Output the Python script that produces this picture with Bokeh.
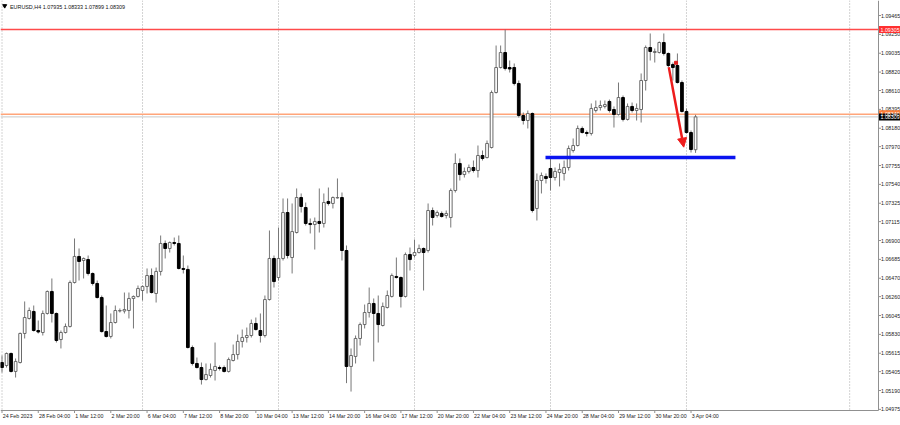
from bokeh.plotting import figure
from bokeh.models import Range1d, ColumnDataSource, Arrow, NormalHead
from bokeh.core.properties import value
from bokeh.embed import file_html
from bokeh.resources import INLINE

title_text = "EURUSD,H4  1.07935 1.08333 1.07899 1.08309"

opens = [
    1.05509, 1.05475, 1.05612, 1.05407, 1.05509, 1.05840, 1.06011, 1.06091, 1.05874, 1.05851,
    1.06068, 1.06319, 1.06068, 1.05771, 1.05851, 1.05920, 1.06421, 1.06718, 1.06672, 1.06683,
    1.06524, 1.06410, 1.06250, 1.05862, 1.05806, 1.05965, 1.06096, 1.06096, 1.06102, 1.06239,
    1.06262, 1.06330, 1.06376, 1.06501, 1.06296, 1.06547, 1.06866, 1.06809, 1.06877, 1.06866,
    1.06581, 1.06570, 1.05680, 1.05498, 1.05452, 1.05315, 1.05361, 1.05418, 1.05452, 1.05452,
    1.05407, 1.05532, 1.05600, 1.05749, 1.05794, 1.05817, 1.05954, 1.05874, 1.05817, 1.06227,
    1.06695, 1.06478, 1.06695, 1.07219, 1.06706, 1.06991, 1.07390, 1.07276, 1.07094, 1.07082,
    1.07117, 1.07094, 1.07345, 1.07322, 1.07385, 1.07390, 1.06786, 1.05464, 1.05578, 1.05783,
    1.05942, 1.06079, 1.06182, 1.06068, 1.05931, 1.06136, 1.06262, 1.06490, 1.06478, 1.06262,
    1.06740, 1.06729, 1.06763, 1.06809, 1.06786, 1.07242, 1.07185, 1.07208, 1.07185, 1.07162,
    1.07470, 1.07778, 1.07652, 1.07687, 1.07732, 1.07698, 1.07869, 1.07846, 1.07960, 1.08587,
    1.08872, 1.09043, 1.08872, 1.08872, 1.08690, 1.08325, 1.08268, 1.08348, 1.07265, 1.07584,
    1.07630, 1.07721, 1.07618, 1.07675, 1.07664, 1.07732, 1.07926, 1.07983, 1.08177, 1.08131,
    1.08120, 1.08382, 1.08416, 1.08428, 1.08485, 1.08393, 1.08336, 1.08530, 1.08280, 1.08428,
    1.08382, 1.08393, 1.08724, 1.09100, 1.09043, 1.09043, 1.09157, 1.09032, 1.08906, 1.08895,
    1.08701, 1.08371, 1.08131, 1.07935]

highs = [
    1.05589, 1.05623, 1.05623, 1.05555, 1.05851, 1.06205, 1.06136, 1.06159, 1.05988, 1.06102,
    1.06330, 1.06467, 1.06079, 1.05874, 1.05954, 1.06444, 1.06923, 1.06809, 1.06706, 1.06729,
    1.06535, 1.06444, 1.06273, 1.06159, 1.06068, 1.06159, 1.06125, 1.06307, 1.06307, 1.06273,
    1.06387, 1.06387, 1.06581, 1.06581, 1.06592, 1.06957, 1.06900, 1.06889, 1.06934, 1.06957,
    1.06729, 1.06615, 1.05703, 1.05566, 1.05509, 1.05498, 1.05498, 1.05737, 1.05475, 1.05475,
    1.05566, 1.05714, 1.05828, 1.05885, 1.05908, 1.05999, 1.06022, 1.06068, 1.06273, 1.07014,
    1.06729, 1.07048, 1.07379, 1.07379, 1.07322, 1.07493, 1.07436, 1.07333, 1.07151, 1.07162,
    1.07493, 1.07436, 1.07504, 1.07402, 1.07607, 1.07447, 1.06843, 1.05669, 1.05817, 1.05965,
    1.06170, 1.06364, 1.06239, 1.06273, 1.06193, 1.06330, 1.06524, 1.06706, 1.06490, 1.06763,
    1.06820, 1.06911, 1.06854, 1.06820, 1.07322, 1.07276, 1.07242, 1.07231, 1.07242, 1.07493,
    1.07892, 1.07835, 1.07732, 1.07766, 1.07812, 1.07983, 1.07926, 1.08040, 1.08610, 1.09123,
    1.09123, 1.09305, 1.08952, 1.08918, 1.08724, 1.08359, 1.08382, 1.08359, 1.07664, 1.07675,
    1.07664, 1.07835, 1.07732, 1.07778, 1.07812, 1.07983, 1.08063, 1.08211, 1.08200, 1.08154,
    1.08462, 1.08496, 1.08496, 1.08496, 1.08507, 1.08428, 1.08701, 1.08553, 1.08462, 1.08473,
    1.08462, 1.08804, 1.09123, 1.09260, 1.09089, 1.09169, 1.09260, 1.09043, 1.08929, 1.09032,
    1.08724, 1.08405, 1.08154, 1.08333]

lows = [
    1.05395, 1.05452, 1.05395, 1.05338, 1.05498, 1.05783, 1.05999, 1.05862, 1.05840, 1.05817,
    1.06056, 1.05965, 1.05737, 1.05669, 1.05840, 1.05908, 1.06410, 1.06444, 1.06467, 1.06501,
    1.06387, 1.06239, 1.05851, 1.05794, 1.05783, 1.05954, 1.06079, 1.06068, 1.06011, 1.05897,
    1.06250, 1.06216, 1.06296, 1.06296, 1.06193, 1.06501, 1.06695, 1.06763, 1.06843, 1.06570,
    1.06524, 1.05669, 1.05475, 1.05441, 1.05258, 1.05304, 1.05338, 1.05304, 1.05418, 1.05395,
    1.05395, 1.05521, 1.05543, 1.05680, 1.05737, 1.05794, 1.05874, 1.05737, 1.05794, 1.06216,
    1.06364, 1.06444, 1.06672, 1.06695, 1.06524, 1.06980, 1.07219, 1.07071, 1.06980, 1.06797,
    1.06991, 1.07048, 1.07299, 1.07265, 1.07379, 1.06672, 1.05274, 1.05178, 1.05498, 1.05703,
    1.05897, 1.06022, 1.05521, 1.05737, 1.05920, 1.06125, 1.06250, 1.06467, 1.06136, 1.06250,
    1.06558, 1.06706, 1.06752, 1.06330, 1.06763, 1.07071, 1.07162, 1.07162, 1.07151, 1.07048,
    1.07447, 1.07584, 1.07618, 1.07664, 1.07675, 1.07618, 1.07812, 1.07835, 1.07949, 1.08576,
    1.08861, 1.08838, 1.08815, 1.08667, 1.08302, 1.08222, 1.08177, 1.07219, 1.07128, 1.07436,
    1.07550, 1.07470, 1.07584, 1.07516, 1.07584, 1.07698, 1.07903, 1.07972, 1.08120, 1.08086,
    1.08097, 1.08359, 1.08382, 1.08405, 1.08359, 1.08188, 1.08325, 1.08257, 1.08268, 1.08359,
    1.08268, 1.08245, 1.08610, 1.08952, 1.08929, 1.09032, 1.09009, 1.08872, 1.08724, 1.08690,
    1.08359, 1.08120, 1.07903, 1.07899]

closes = [
    1.05452, 1.05612, 1.05407, 1.05521, 1.05840, 1.06022, 1.06102, 1.05874, 1.05857, 1.06068,
    1.06319, 1.06068, 1.05760, 1.05851, 1.05920, 1.06421, 1.06718, 1.06661, 1.06695, 1.06524,
    1.06410, 1.06250, 1.05862, 1.05806, 1.05965, 1.06102, 1.06102, 1.06113, 1.06239, 1.06262,
    1.06353, 1.06376, 1.06501, 1.06307, 1.06547, 1.06866, 1.06809, 1.06877, 1.06866, 1.06581,
    1.06570, 1.05680, 1.05498, 1.05452, 1.05315, 1.05372, 1.05430, 1.05464, 1.05441, 1.05407,
    1.05543, 1.05600, 1.05749, 1.05794, 1.05817, 1.05954, 1.05885, 1.05817, 1.06227, 1.06695,
    1.06432, 1.06695, 1.07219, 1.06729, 1.07002, 1.07390, 1.07288, 1.07094, 1.07082, 1.07117,
    1.07094, 1.07333, 1.07322, 1.07390, 1.07390, 1.06786, 1.05464, 1.05589, 1.05783, 1.05942,
    1.06079, 1.06182, 1.06068, 1.05942, 1.06148, 1.06273, 1.06501, 1.06478, 1.06262, 1.06740,
    1.06683, 1.06763, 1.06809, 1.06763, 1.07242, 1.07162, 1.07219, 1.07174, 1.07208, 1.07470,
    1.07778, 1.07652, 1.07687, 1.07732, 1.07698, 1.07869, 1.07835, 1.08006, 1.08587, 1.08872,
    1.09043, 1.08861, 1.08855, 1.08690, 1.08325, 1.08268, 1.08348, 1.07242, 1.07584, 1.07641,
    1.07607, 1.07618, 1.07687, 1.07710, 1.07732, 1.07949, 1.07983, 1.08177, 1.08131, 1.08120,
    1.08405, 1.08416, 1.08439, 1.08450, 1.08382, 1.08336, 1.08530, 1.08280, 1.08428, 1.08382,
    1.08405, 1.08724, 1.09100, 1.09055, 1.09055, 1.09157, 1.09032, 1.08895, 1.08872, 1.08701,
    1.08371, 1.08131, 1.07937, 1.08309]

x_tick_bars = [0, 8, 16, 24, 32, 40, 48, 56, 64, 72, 80, 88, 96, 104, 112, 120, 128, 136, 144, 152]
x_tick_labels = ["24 Feb 2023", "28 Feb 04:00", "1 Mar 12:00", "2 Mar 20:00", "6 Mar 04:00",
                 "7 Mar 12:00", "8 Mar 20:00", "10 Mar 04:00", "13 Mar 12:00", "14 Mar 20:00",
                 "16 Mar 04:00", "17 Mar 12:00", "20 Mar 20:00", "22 Mar 04:00", "23 Mar 12:00",
                 "24 Mar 20:00", "28 Mar 04:00", "29 Mar 12:00", "30 Mar 20:00", "3 Apr 04:00"]
y_ticks = [1.09465, 1.09250, 1.09035, 1.08820, 1.08610, 1.08395, 1.08180, 1.07970, 1.07755,
           1.07540, 1.07325, 1.07115, 1.06900, 1.06685, 1.06470, 1.06260, 1.06045, 1.05830,
           1.05615, 1.05405, 1.05190, 1.04975]
week_separators = [0, 31, 61, 91, 121, 151, 187]

red_level = 1.09305
orange_level = 1.08340
bid_level = 1.08309
blue_level = 1.07846
blue_span = (119.9, 161.8)
arrow_start = (147.1, 1.08876)
arrow_end = (150.4, 1.07964)
marker_point = (148.7, 1.08926)

# ---------------------------------------------------------------
# pixel geometry of the MT4 window (layout only)
PX_PER_BAR = 4.533
PRICE_PER_PX = 0.000114
X_LEFT = -1.5 / PX_PER_BAR
Y_TOP = 1.09636
W, H = 900, 425
AXIS_X, AXIS_Y = 878, 410


def X(px):
    return X_LEFT + px / PX_PER_BAR


def Y(py):
    return Y_TOP - py * PRICE_PER_PX


FONT = value("Liberation Sans")
FS = "5.3px"

n = len(opens)
idx = list(range(n))
up = [c >= o for o, c in zip(opens, closes)]
src = ColumnDataSource(dict(
    x=idx, h=highs, l=lows,
    top=[max(o, c) for o, c in zip(opens, closes)],
    bot=[min(o, c) for o, c in zip(opens, closes)],
    fill=["#ffffff" if u else "#000000" for u in up],
    line=["#6a6a6a" if u else "#000000" for u in up],
))

p = figure(width=W, height=H, output_backend="svg", toolbar_location=None,
           x_range=Range1d(X(0), X(W)), y_range=Range1d(Y(H), Y(0)),
           x_axis_location=None, y_axis_location=None, min_border=0)
p.grid.visible = False
p.outline_line_color = None
p.background_fill_color = "white"
p.border_fill_color = "white"

# weekly separators
p.segment(x0=week_separators, x1=week_separators, y0=[Y(0)] * len(week_separators),
          y1=[Y(AXIS_Y)] * len(week_separators), line_color="#a8a8a8", line_width=1,
          line_dash="1 2")

# horizontal levels
p.segment(x0=[X(0)], x1=[X(AXIS_X)], y0=[red_level], y1=[red_level], line_color="#ff4a4a", line_width=1.6)
p.segment(x0=[X(0)], x1=[X(AXIS_X)], y0=[orange_level], y1=[orange_level], line_color="#ffa57a", line_width=1.4)
p.segment(x0=[X(0)], x1=[X(AXIS_X)], y0=[bid_level], y1=[bid_level], line_color="#c8c8c8", line_width=1)

# candles
p.segment(x0="x", x1="x", y0="h", y1="l", source=src, line_color="#777777", line_width=1)
p.vbar(x="x", top="top", bottom="bot", width=0.6, source=src,
       fill_color="fill", line_color="line", line_width=1)

# blue support line
p.segment(x0=[blue_span[0]], x1=[blue_span[1]], y0=[blue_level], y1=[blue_level],
          line_color="#0a14f0", line_width=3.5)

# red arrow
p.add_layout(Arrow(end=NormalHead(size=9, fill_color="#ee1c1c", line_color="#ee1c1c"),
                   x_start=arrow_start[0], y_start=arrow_start[1],
                   x_end=arrow_end[0], y_end=arrow_end[1],
                   line_color="#ee1c1c", line_width=2.5))
p.scatter([marker_point[0]], [marker_point[1]], marker="square", size=3, color="#e02020")

# axis frame lines
AX = "#909090"
p.segment(x0=[X(AXIS_X)], x1=[X(AXIS_X)], y0=[Y(0)], y1=[Y(AXIS_Y)], line_color=AX, line_width=1)
p.segment(x0=[X(0)], x1=[X(AXIS_X)], y0=[Y(AXIS_Y)], y1=[Y(AXIS_Y)], line_color=AX, line_width=1)

# price scale (right)
p.segment(x0=[X(AXIS_X)] * len(y_ticks), x1=[X(AXIS_X + 2.5)] * len(y_ticks),
          y0=y_ticks, y1=y_ticks, line_color=AX, line_width=1)
p.text(x=[X(AXIS_X + 2.5)] * len(y_ticks), y=y_ticks, text=[f"{t:.5f}" for t in y_ticks],
       text_font=FONT, text_font_size=FS, text_baseline="middle", text_align="left",
       text_color="#222222")

# time scale (bottom)
p.segment(x0=x_tick_bars, x1=x_tick_bars, y0=[Y(AXIS_Y)] * len(x_tick_bars),
          y1=[Y(AXIS_Y + 2.5)] * len(x_tick_bars), line_color=AX, line_width=1)
p.text(x=[b + 0.15 for b in x_tick_bars], y=[Y(AXIS_Y + 2)] * len(x_tick_bars), text=x_tick_labels,
       text_font=FONT, text_font_size=FS, text_baseline="top", text_align="left",
       text_color="#222222")

# price boxes on the scale
box_levels = [red_level, orange_level + 0.00005, bid_level]
box_colors = ["#ff3030", "#ff7f3a", "#000000"]
p.rect(x=[X(AXIS_X + 11)] * 3, y=box_levels, width=[21] * 3, height=[7] * 3,
       width_units="screen", height_units="screen", fill_color=box_colors, line_color=None)
p.text(x=[X(AXIS_X + 2)] * 3, y=box_levels,
       text=[f"{red_level:.5f}", f"{orange_level:.5f}", f"{bid_level:.5f}"],
       text_font=FONT, text_font_size=FS, text_baseline="middle", text_align="left",
       text_color="white")

# header
p.scatter([X(4.2)], [Y(5.3)], marker="inverted_triangle", size=4, color="black")
p.text(x=[X(9.5)], y=[Y(6)], text=[title_text], text_font=FONT, text_font_size="5.4px",
       text_baseline="middle", text_align="left", text_color="#111111")

open("out.html", "w").write(file_html(p, INLINE))
